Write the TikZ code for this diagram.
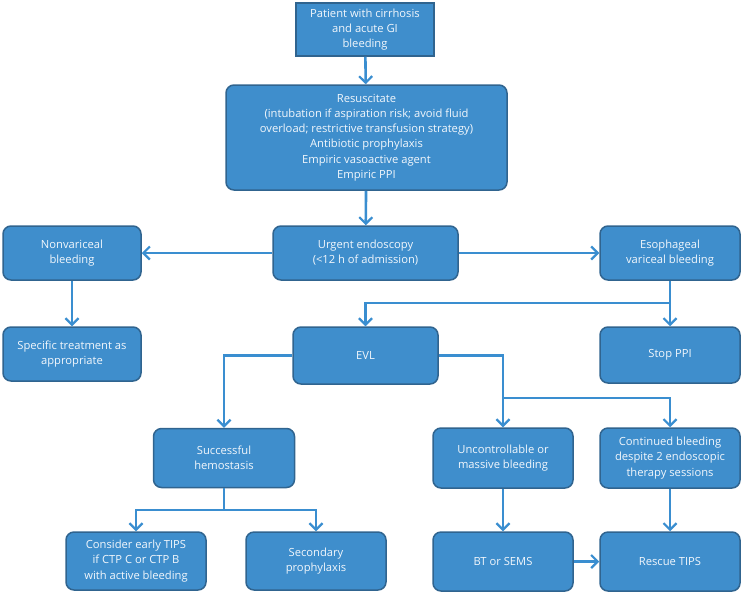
\documentclass[tikz,border=0pt]{standalone}
\usepackage{fontspec}
\setmainfont{Open Sans}
\usetikzlibrary{arrows.meta}
\definecolor{boxfill}{HTML}{3F8ECC}
\definecolor{boxline}{HTML}{30648F}
\definecolor{arrcol}{HTML}{3A8ED0}
\definecolor{txt}{HTML}{F2F7FC}
\tikzset{
  box/.style={draw=boxline, fill=boxfill, line width=1.5pt, rounded corners=8pt,
    align=center, text=txt, font=\fontsize{11.2}{15.2}\selectfont, inner sep=2pt},
  sqbox/.style={box, rounded corners=0pt},
  conn/.style={draw=arrcol, line width=2.6pt},
  arr/.style={conn, -{Straight Barb[length=6.5pt,width=13pt,line width=2.2pt]}}
}
\begin{document}
\begin{tikzpicture}[x=1pt,y=-1pt]
\useasboundingbox (0,0) rectangle (743,592);
\node[sqbox, minimum width=138pt, minimum height=53pt] (top) at (365,29.5) {Patient with cirrhosis\\and acute GI\\bleeding};
\node[box, minimum width=281pt, minimum height=105pt] (res) at (366.5,137.5) {Resuscitate\\(intubation if aspiration risk; avoid fluid\\overload; restrictive transfusion strategy)\\Antibiotic prophylaxis\\Empiric vasoactive agent\\Empiric PPI};
\node[box, minimum width=185pt, minimum height=54pt] (urg) at (365.5,253) {Urgent endoscopy\\(<12 h of admission)};
\node[box, minimum width=138pt, minimum height=54pt] (nonv) at (72,253) {Nonvariceal\\bleeding};
\node[box, minimum width=140pt, minimum height=54pt] (eso) at (670,253) {Esophageal\\variceal bleeding};
\node[box, minimum width=138pt, minimum height=54pt] (spec) at (72,354) {Specific treatment as\\appropriate};
\node[box, minimum width=140pt, minimum height=56pt] (stop) at (670,355) {Stop PPI};
\node[box, minimum width=145pt, minimum height=57pt] (evl) at (365.5,355.5) {EVL};
\node[box, minimum width=141pt, minimum height=59pt] (succ) at (224,458) {Successful\\hemostasis};
\node[box, minimum width=140pt, minimum height=60pt] (unc) at (503,458) {Uncontrollable or\\massive bleeding};
\node[box, minimum width=140pt, minimum height=60pt] (cont) at (670,458) {Continued bleeding\\despite 2 endoscopic\\therapy sessions};
\node[box, minimum width=140pt, minimum height=58pt] (cons) at (136,561) {Consider early TIPS\\if CTP C or CTP B\\with active bleeding};
\node[box, minimum width=140pt, minimum height=58pt] (sec) at (316,561) {Secondary\\prophylaxis};
\node[box, minimum width=140pt, minimum height=59pt] (bt) at (503,561.5) {BT or SEMS};
\node[box, minimum width=140pt, minimum height=59pt] (resc) at (670,561.5) {Rescue TIPS};
\coordinate (j1) at (670,303);
\coordinate (j2) at (503,398);
\coordinate (j3) at (224,510);
\draw[arr] (top) -- (res);
\draw[arr] (res) -- (urg);
\draw[arr] (urg) -- (nonv);
\draw[arr] (urg) -- (eso);
\draw[arr] (nonv) -- (spec);
\draw[arr] (eso) -- (stop);
\draw[arr] (j1) -| (evl.north);
\draw[arr] (evl.west) -| (succ.north);
\draw[arr] (evl.east) -| (unc.north);
\draw[arr] (j2) -| (cont.north);
\draw[conn] (succ.south) -- (j3);
\draw[arr] (j3) -| (cons.north);
\draw[arr] (j3) -| (sec.north);
\draw[arr] (unc) -- (bt);
\draw[arr] (cont) -- (resc);
\draw[arr] (bt) -- (resc);
\end{tikzpicture}
\end{document}
